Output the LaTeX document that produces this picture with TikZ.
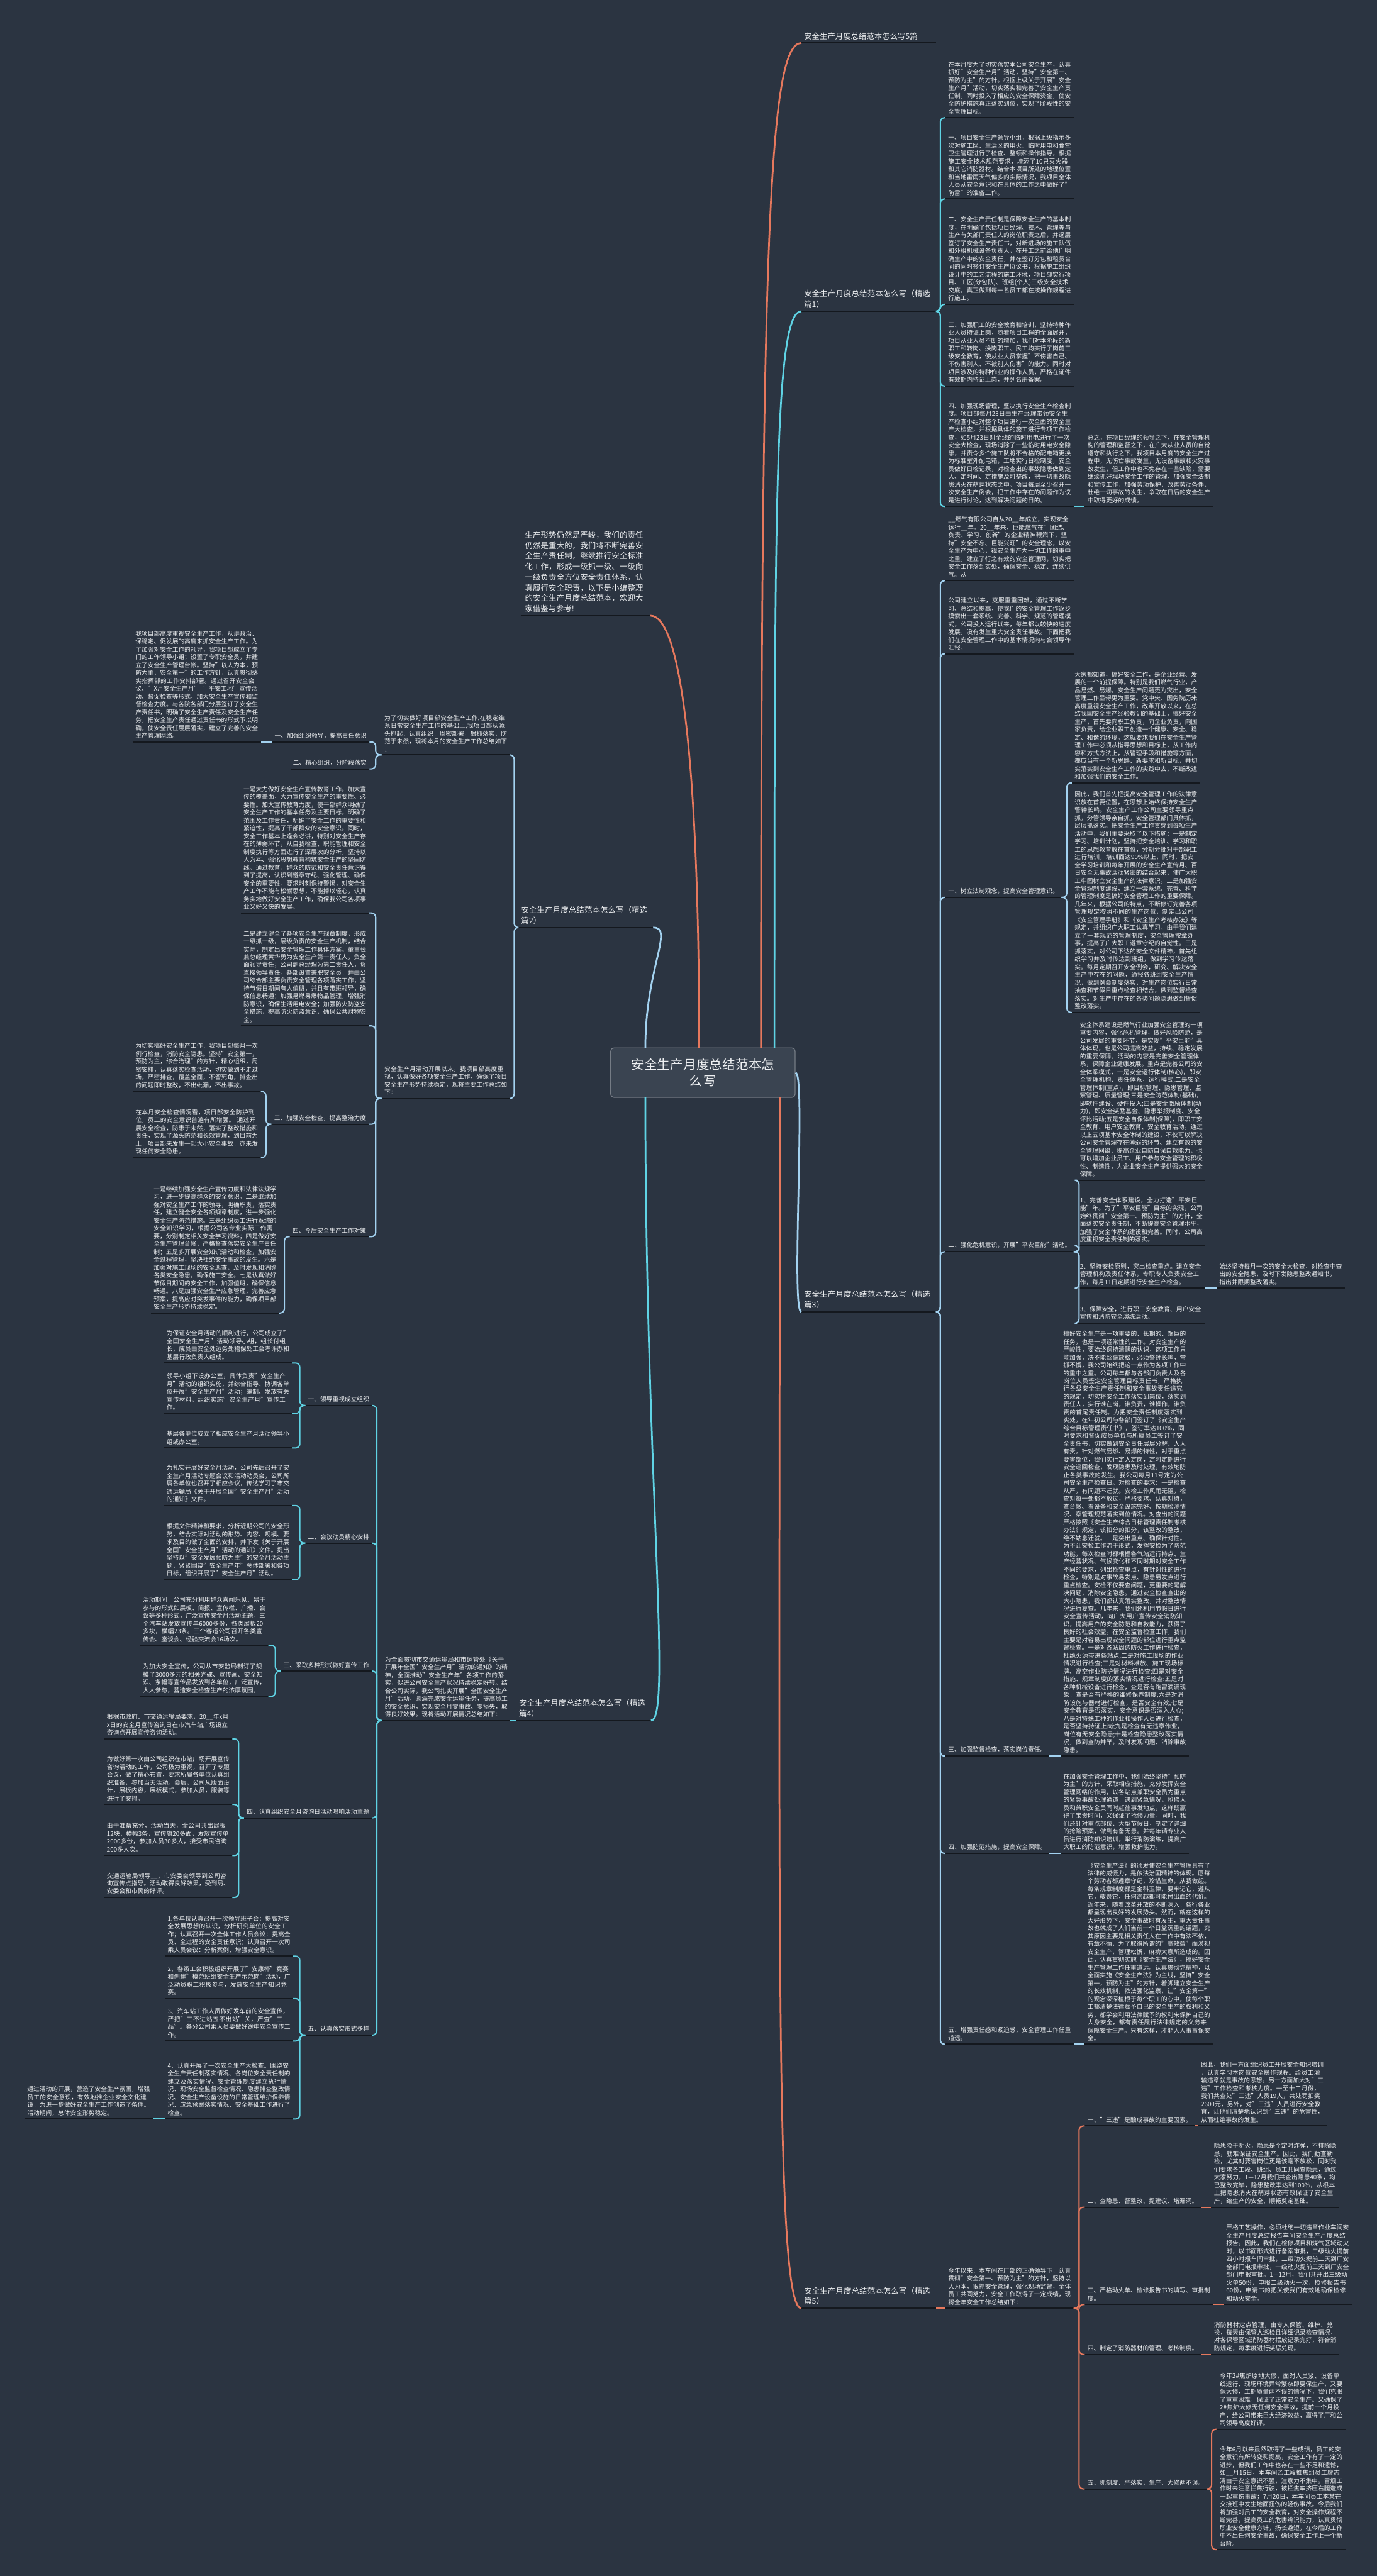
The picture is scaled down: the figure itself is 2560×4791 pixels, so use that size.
\documentclass[tikz,border=0pt]{standalone}
\usepackage{fontspec}
\setmainfont{Noto Sans CJK SC}
\XeTeXlinebreaklocale "zh"
\XeTeXlinebreakskip=0pt plus 1pt
\usetikzlibrary{positioning}
\definecolor{bg}{HTML}{2B3441}
\definecolor{ink}{HTML}{EEF0F2}
\definecolor{rule}{HTML}{14181E}
\definecolor{cyanc}{HTML}{5FD3E4}
\definecolor{bluec}{HTML}{A3D2F0}
\definecolor{orangec}{HTML}{E6785D}
\definecolor{rootfill}{HTML}{3A4451}
\newcommand\leaffont{\fontsize{11.4pt}{14.6pt}\selectfont}
\newcommand\topicfont{\fontsize{14.5pt}{19.6pt}\selectfont}
\newcommand\rootfont{\fontsize{24pt}{31pt}\selectfont}
\tikzset{
  uline/.style={draw=rule, line width=2.4pt},
  lab/.style={
    anchor=south west, inner xsep=5pt, inner ysep=6pt,
    align=left, text=ink, font=\leaffont,
    append after command={(\tikzlastnode.south west) edge[uline] (\tikzlastnode.south east)}
  },
  leaf/.style={lab, text width=228pt},
  labl/.style={lab, anchor=south east},
  leafl/.style={leaf, anchor=south east},
  topic/.style={lab, text width=240pt, font=\topicfont},
  rootbox/.style={
    fill=rootfill, draw=rootfill!70!white, line width=1.5pt, rounded corners=6pt,
    text width=290pt, align=center, minimum width=343pt, minimum height=92pt,
    text=ink, font=\rootfont
  },
  conn/.style={line width=2.4pt, rounded corners=8pt},
  branch/.style={line width=3.2pt}
}
\begin{document}
\begin{tikzpicture}[x=1pt, y=-1pt]
  \fill[bg] (0,0) rectangle (2560,4791);
  \useasboundingbox (0,0) rectangle (2560,4791);

  % root
  \node[rootbox] (root) at (1307,1995) {安全生产月度总结范本怎\\么写};

  % ---------- right side ----------
  \node[topic] (top) at (1490,80) {安全生产月度总结范本怎么写5篇};
  \node[topic] (pa) at (1490,579) {安全生产月度总结范本怎么写（精选篇1）};
  \node[topic] (pc) at (1490,2440) {安全生产月度总结范本怎么写（精选篇3）};
  \node[topic] (pe) at (1490,4293) {安全生产月度总结范本怎么写（精选篇5）};

  % 篇1
  \node[leaf] (a1) at (1758,219) {在本月度为了切实落实本公司安全生产，认真抓好"安全生产月"活动，坚持"安全第一、预防为主"的方针。根据上级关于开展"安全生产月"活动，切实落实和完善了安全生产责任制，同时投入了相应的安全保障资金，使安全防护措施真正落实到位，实现了阶段性的安全管理目标。};
  \node[leaf] (a2) at (1758,370) {一、项目安全生产领导小组，根据上级指示多次对施工区、生活区的用火、临时用电和食堂卫生管理进行了检查、整顿和操作指导，根据施工安全技术规范要求，增添了10只灭火器和其它消防器材。结合本项目所处的地理位置和当地雷雨天气偏多的实际情况，我项目全体人员从安全意识和在具体的工作之中做好了"防雷"的准备工作。};
  \node[leaf] (a3) at (1758,566) {二、安全生产责任制是保障安全生产的基本制度，在明确了包括项目经理、技术、管理等与生产有关部门责任人的岗位职责之后，并逐层签订了安全生产责任书，对新进场的施工队伍和外租机械设备负责人，在开工之前给他们明确生产中的安全责任，并在签订分包和租赁合同的同时签订安全生产协议书；根据施工组织设计中的工艺流程的施工环境，项目部实行项目、工区(分包队)、班组(个人)三级安全技术交底，真正做到每一名员工都在按操作规程进行施工。};
  \node[leaf] (a4) at (1758,718) {三、加强职工的安全教育和培训，坚持特种作业人员持证上岗，随着项目工程的全面展开，项目从业人员不断的增加，我们对本阶段的新职工和转岗、换岗职工、民工均实行了岗前三级安全教育，使从业人员掌握"不伤害自己、不伤害别人、不被别人伤害"的能力。同时对项目涉及的特种作业的操作人员，严格在证件有效期内持证上岗，并列名册备案。};
  \node[leaf] (a5) at (1758,942) {四、加强现场管理，坚决执行安全生产检查制度。项目部每月23日由生产经理带领安全生产检查小组对整个项目进行一次全面的安全生产大检查，并根据具体的施工进行专项工作检查，如5月23日对全线的临时用电进行了一次安全大检查，现场消除了一些临时用电安全隐患，并责令多个施工队将不合格的配电箱更换为标准室外配电箱，工地实行日检制度，安全员做好日检记录，对检查出的事故隐患做到定人、定时间、定措施及时整改，把一切事故隐患消灭在萌芽状态之中。项目每周至少召开一次安全生产例会，把工作中存在的问题作为议是进行讨论，达到解决问题的目的。};
  \node[leaf] (a6) at (2017,942) {总之，在项目经理的领导之下，在安全管理机构的管理和监督之下，在广大从业人员的自觉遵守和执行之下，我项目本月度的安全生产过程中，无伤亡事故发生，无设备事故和火灾事故发生，但工作中也不免存在一些缺陷，需要继续抓好现场安全工作的管理，加强安全法制和宣传工作，加强劳动保护，改善劳动条件，杜绝一切事故的发生，争取在日后的安全生产中取得更好的成绩。};

  % 篇3
  \node[leaf] (c1) at (1758,1080) {\_\_燃气有限公司自从20\_\_年成立，实现安全运行\_\_年。20\_\_年来，巨能燃气在"团结、负责、学习、创新"的企业精神鞭策下，坚持"安全不忘、巨能兴旺"的安全理念，以安全生产为中心，视安全生产为一切工作的重中之重，建立了行之有效的安全管理网，切实把安全工作落到实处，确保安全、稳定、连续供气。从};
  \node[leaf] (c2) at (1758,1216) {公司建立以来，克服重重困难，通过不断学习、总结和提高，使我们的安全管理工作逐步摸索出一套系统、完善、科学、规范的管理模式，公司投入运行以来，每年都以较快的速度发展，没有发生重大安全责任事故。下面把我们在安全管理工作中的基本情况向与会领导作汇报。};
  \node[lab] (c3) at (1758,1669) {一、树立法制观念，提高安全管理意识。};
  \node[lab] (c4) at (1758,2328) {二、强化危机意识，开展"平安巨能"活动。};
  \node[lab] (c5) at (1758,3266) {三、加强监督检查，落实岗位责任。};
  \node[lab] (c6) at (1758,3447) {四、加强防范措施，提高安全保障。};
  \node[leaf] (c7) at (1758,3802) {五、增强责任感和紧迫感，安全管理工作任重道远。};
  \node[leaf] (c31) at (1993,1456) {大家都知道，搞好安全工作，是企业经营、发展的一个前提保障。特别是我们燃气行业，产品易燃、易爆，安全生产问题更为突出，安全管理工作显得更为重要。党中央、国务院历来高度重视安全生产工作，改革开放以来，在总结我国安全生产经验教训的基础上，搞好安全生产，首先要向职工负责，向企业负责，向国家负责，给企业职工创造一个健康、安全、稳定、和谐的环境。这就要求我们在安全生产管理工作中必须从指导思想和目标上，从工作内容和方式方法上，从管理手段和措施等方面，都应当有一个新思路、新要求和新目标，并切实落实到安全生产工作的实践中去，不断改进和加强我们的安全工作。};
  \node[leaf] (c32) at (1993,1883) {因此，我们首先把提高安全管理工作的法律意识放在首要位置，在思想上始终保持安全生产警钟长鸣。安全生产工作公司主要领导重点抓，分管领导亲自抓，安全管理部门具体抓，层层抓落实。把安全生产工作贯穿到每项生产活动中，我们主要采取了以下措施：一是制定学习、培训计划，坚持把安全培训、学习和职工的思想教育放在首位，分期分批对干部职工进行培训，培训面达90\%以上，同时，把安全学习培训和每年开展的安全生产宣传月、百日安全无事故活动紧密的结合起来，使广大职工牢固树立安全生产的法律意识。二是加强安全管理制度建设，建立一套系统、完善、科学的管理制度是搞好安全管理工作的重要保障。几年来，根据公司的特点，不断修订完善各项管理规定按照不同的生产岗位，制定出公司《安全管理手册》和《安全生产考核办法》等规定，并组织广大职工认真学习。由于我们建立了一套规范的管理制度，安全管理按章办事，提高了广大职工遵章守纪的自觉性。三是抓落实，对公司下达的安全文件精神，首先组织学习并及时传达到班组，做到学习传达落实。每月定期召开安全例会，研究、解决安全生产中存在的问题，通报各班组安全生产情况，做到例会制度落实，对生产岗位实行日常抽查和节假日重点检查相结合，做到监督检查落实。对生产中存在的各类问题隐患做到督促整改落实。};
  \node[leaf] (c41) at (2003,2195) {安全体系建设是燃气行业加强安全管理的一项重要内容，强化危机管理，做好风险防范，是公司发展的重要环节，是实现"平安巨能"具体体现，也是公司提高效益，持续、稳定发展的重要保障。活动的内容是完善安全管理体系，保障企业健康发展。重点是完善公司的安全体系模式，一是安全运行体制(核心)，即安全管理机构、责任体系，运行模式;二是安全管理体制(重点)，即目标管理、隐患管理、监察管理、质量管理;三是安全防范体制(基础)，即软件建设、硬件投入;四是安全激励体制(动力)，即安全奖励基金、隐患举报制度、安全评比活动;五是安全自保体制(保障)，即职工安全教育、用户安全教育、安全教育活动。通过以上五项基本安全体制的建设，不仅可以解决公司安全管理存在薄弱的环节、建立有效的安全管理网络，提高企业自防自保自救能力，也可以增加企业员工、用户参与安全管理的积极性、制造性，为企业安全生产提供强大的安全保障。};
  \node[leaf] (c42) at (2003,2317) {1、完善安全体系建设，全力打造"平安巨能"年。为了"平安巨能"目标的实现，公司始终贯彻"安全第一、预防为主"的方针，全面落实安全责任制，不断提高安全管理水平，加强了安全体系的建设和完善。同时，公司高度重视安全责任制的落实。};
  \node[leaf] (c43) at (2003,2396) {2、坚持安检原则，突出检查重点。建立安全管理机构及责任体系，专职专人负责安全工作，每月11日定期进行安全生产检查。};
  \node[leaf] (c44) at (2003,2461) {3、保障安全，进行职工安全教育、用户安全宣传和消防安全演练活动。};
  \node[leaf] (c45) at (2262,2396) {始终坚持每月一次的安全大检查，对检查中查\\出的安全隐患，及时下发隐患整改通知书，\\指出并限期整改落实。};
  \node[leaf] (c51) at (1972,3266) {搞好安全生产是一项重要的、长期的、艰巨的任务，也是一项经常性的工作。对安全生产的严峻性，要始终保持清醒的认识，这项工作只能加强，决不能丝毫放松，必须警钟长鸣，常抓不懈，我公司始终把这一点作为各项工作中的重中之重。公司每年都与各部门负责人及各岗位人员签定安全管理目标责任书，严格执行各级安全生产责任制和安全事故责任追究的规定，切实将安全工作落实到岗位，落实到责任人，实行谁在岗，谁负责，谁操作，谁负责的首尾责任制。为把安全责任制度落实到实处，在年初公司与各部门签订了《安全生产综合目标管理责任书》，签订率达100\%，同时要求和督促成员单位与所属员工签订了安全责任书，切实做到安全责任层层分解、人人有责。针对燃气易燃、易爆的特性，对于重点要害部位，我们实行定人定岗，定时定期进行安全巡回检查，发现隐患及时处理，有效地防止各类事故的发生。我公司每月11号定为公司安全生产检查日。对检查的要求：一是检查从严，有问题不迁就。安检工作风雨无阻，检查对每一处都不放过，严格要求、认真对待，查台帐、看设备和安全设施完好、按期检测情况、察管理规范落实到位情况。对查出的问题严格按照《安全生产综合目标管理责任制考核办法》规定，该扣分的扣分，该整改的整改，绝不姑息迁就。二是突出重点、确保针对性。为不让安检工作流于形式，发挥安检为了防范功能，每次检查时都根据各气站运行特点、生产经营状况、气候变化和不同时期对安全工作不同的要求，列出检查重点，有针对性的进行检查，特别是对事故易发点、隐患易发点进行重点检查。安检不仅要查问题，更重要的是解决问题，消除安全隐患。通过安全检查查出的大小隐患，我们都认真落实整改，并对整改情况进行复查。几年来，我们还利用节假日进行安全宣传活动，向广大用户宣传安全消防知识，提高用户的安全防范和自救能力，获得了良好的社会效益。在安全监督检查工作，我们主要是对容易出现安全问题的部位进行重点监督检查。一是对各站周边防火工作进行检查，杜绝火源带进各站点;二是对施工现场的作业情况进行检查;三是对材料堆放、施工现场标牌、高空作业防护情况进行检查;四是对安全措施、规章制度的落实情况进行检查;五是对各种机械设备进行检查，查是否有跑冒滴漏现象，查是否有严格的维修保养制度;六是对消防设施与器材进行检查，是否安全有效;七是安全教育是否落实，安全意识是否深入人心;八是对特殊工种的作业和操作人员进行检查，是否坚持持证上岗;九是检查有无违章作业，岗位有无安全隐患;十是检查隐患整改落实情况，做到查防并举，及时发现问题、消除事故隐患。};
  \node[leaf] (c61) at (1972,3447) {在加强安全管理工作中，我们始终坚持"预防为主"的方针，采取相应措施，充分发挥安全管理网络的作用，以各站点兼职安全员为重点的紧急事故处理通道，遇到紧急情况，抢修人员和兼职安全员同时赶往事发地点，这样既赢得了宝贵时间，又保证了抢修力量。同时，我们还针对重点部位、大型节假日，制定了详细的抢险预案，做到有备无患。并每年请专业人员进行消防知识培训，举行消防演练，提高广大职工的防范意识，增强救护能力。};
  \node[leaf] (c71) at (2017,3802) {《安全生产法》的颁发使安全生产管理具有了法律的威慑力，是依法治国精神的体现。愿每个劳动者都遵章守纪，珍惜生命，从我做起。每条规章制度都是金科玉律，要牢记它，遵从它，敬畏它，任何逾越都可能付出血的代价。近年来，随着改革开放的不断深入，各行各业都呈现出良好的发展势头。然而，就在这样的大好形势下，安全事故时有发生，重大责任事故也就成了人们当前一个日益沉重的话题，究其原因主要是相关责任人在工作中有法不依，有章不循，为了取得所谓的"高效益"而漠视安全生产，管理松懈，麻痹大意所造成的。因此，认真贯彻实施《安全生产法》，搞好安全生产管理工作任重道远。认真贯彻党精神，以全面实施《安全生产法》为主线，坚持"安全第一，预防为主"的方针，着脚建立安全生产的长效机制，依法强化监察，让"安全第一"的观念深深植根于每个职工的心中，使每个职工都清楚法律赋予自己的安全生产的权利和义务，都学会利用法律赋予的权利来保护自己的人身安全，都有责任履行法律规定的义务来保障安全生产。只有这样，才能人人事事保安全。};

  % 篇5
  \node[leaf] (e0) at (1758,4293) {今年以来，本车间在厂部的正确领导下，认真贯彻"安全第一、预防为主"的方针，坚持以人为本，狠抓安全管理，强化现场监督，全体员工共同努力，安全工作取得了一定成绩，现将全年安全工作总结如下：};
  \node[lab] (e1) at (2017,3954) {一、"三违"是酿成事故的主要因素。};
  \node[lab] (e2) at (2017,4105) {二、查隐患、督整改、提建议、堵漏洞。};
  \node[leaf] (e3) at (2017,4286) {三、严格动火单、检修报告书的填写、审批制度。};
  \node[lab] (e4) at (2017,4379) {四、制定了消防器材的管理、考核制度。};
  \node[lab] (e5) at (2017,4629) {五、抓制度、严落实，生产、大修两不误。};
  \node[leaf] (e11) at (2228,3954) {因此，我们一方面组织员工开展安全知识培训\\，认真学习本岗位安全操作规程。给员工灌输违章就是事故的思想。另一方面加大对"三违"工作检查和考核力度。一至十二月份，我们共查处"三违"人员19人，共处罚扣奖2600元，另外，对"三违"人员进行安全教育，让他们清楚地认识到"三违"的危害性，从而杜绝事故的发生。};
  \node[leaf] (e21) at (2252,4105) {隐患险于明火，隐患是个定时炸弹，不排除隐患，就难保证安全生产。因此，我们勤查勤检，尤其对要害岗位更是该毫不放松，同时我们要求各工段、班组、员工共同查隐患，通过大家努力，1—12月我们共查出隐患40条，均已整改完毕，隐患整改率达到100\%，从根本上把隐患消灭在萌芽状态有效保证了安全生产，给生产的安全、顺畅奠定基础。};
  \node[leaf] (e31) at (2275,4286) {严格工艺操作，必须杜绝一切违章作业车间安全生产月度总结报告车间安全生产月度总结报告。因此，我们在检修项目和煤气区域动火时，以书面形式进行备案审批，三级动火提前四小时报车间审批，二级动火提前二天到厂安全部门电报审批，一级动火提前三天到厂安全部门申报审批。1—12月，我们共开出三级动火单50份，申报二级动火一次，检修报告书60份，申请书的把关使我们有效地确保检修和动火安全。};
  \node[leaf] (e41) at (2252,4379) {消防器材定点管理，由专人保管、维护、兑换，每天由保管人巡检且详细记录检查情况，对各保管区域消防器材摆放记录完好，符合消防规定，每季度进行奖惩兑现。};
  \node[leaf] (e51) at (2263,4518) {今年2\#焦炉原地大修，面对人员紧、设备单线运行、现场环境异常繁杂即要保生产，又要保大修，工期质量两不误的情况下，我们克服了重重困难，保证了正常安全生产。又确保了2\#焦炉大修无任何安全事故，提前一个月投产，给公司带来巨大经济效益，赢得了厂和公司领导高度好评。};
  \node[leaf] (e52) at (2263,4742) {今年6月以来虽然取得了一些成绩，员工的安全意识有所转变和提高，安全工作有了一定的进步，但我们工作中也存在一些不足和遗憾，如\_\_月15日，本车间乙工段推焦组员工廖志清由于安全意识不强，注意力不集中。冒烟工作时未注意拦焦行驶，被拦焦车挤压右腿造成一起重伤事故；7月20日，本车间员工李某在交接班中发生地面扭伤的轻伤事故。今后我们将加强对员工的安全教育，对安全操作规程不断完善，提高员工的危害辨识能力，认真贯彻职业安全健康方针，扬长避短，在今后的工作中不出任何安全事故，确保安全工作上一个新台阶。};

  % ---------- left side ----------
  \node[lab, text width=225pt, inner xsep=8pt, font=\topicfont] (t0) at (968,1145) {生产形势仍然是严峻，我们的责任仍然是重大的，我们将不断完善安全生产责任制，继续推行安全标准化工作，形成一级抓一级、一级向一级负责全方位安全责任体系，认真履行安全职责，以下是小编整理的安全生产月度总结范本，欢迎大家借鉴与参考!};
  \node[topic] (pb) at (964,1725) {安全生产月度总结范本怎么写（精选篇2）};
  \node[topic] (pd) at (960,3200) {安全生产月度总结范本怎么写（精选篇4）};

  % 篇2
  \node[leafl] (b1) at (948,1404) {为了切实做好项目部安全生产工作,在稳定维系日常安全生产工作的基础上,我项目部从源头抓起，认真组织，周密部署，狠抓落实，防范于未然，现将本月的安全生产工作总结如下\\：};
  \node[leafl] (b2) at (948,2043) {安全生产月活动开展以来，我项目部高度重视，认真做好各项安全生产工作，确保了项目安全生产形势持续稳定，现将主要工作总结如下：};
  \node[labl] (b11) at (687,1380) {一、加强组织领导，提高责任意识};
  \node[labl] (b12) at (687,1430) {二、精心组织，分阶段落实};
  \node[leafl] (b111) at (485,1380) {我项目部高度重视安全生产工作，从讲政治、保稳定、促发展的高度来抓安全生产工作。为了加强对安全工作的领导，我项目部成立了专门的工作领导小组；设置了专职安全员，并建立了安全生产管理台帐。坚持"以人为本，预防为主，安全第一"的工作方针，认真贯彻落实指挥部的工作安排部署。通过召开安全会议、"X月安全生产月" "平安工地"宣传活动、督促检查等形式，加大安全生产宣传和监督检查力度。与各院各部门分层签订了安全生产责任书，明确了安全生产责任及安全生产任务，把安全生产责任通过责任书的形式予以明确，使安全责任层层落实，建立了完善的安全生产管理网络。};
  \node[leafl] (b21) at (686,1698) {一是大力做好安全生产宣传教育工作。加大宣传的覆盖面，大力宣传安全生产的重要性、必要性。加大宣传教育力度，使干部群众明确了安全生产工作的基本任务及主要目标，明确了范围及工作责任，明确了安全工作的重要性和紧迫性，提高了干部群众的安全意识。同时，安全工作基本上逢会必讲，特别对安全生产存在的薄弱环节，从自我检查、职能管理和安全制度执行等方面进行了深层次的分析，坚持以人为本、强化思想教育构筑安全生产的坚固防线。通过教育，群众的防范和安全责任意识得到了提高，认识到遵章守纪、强化管理、确保安全的重要性。要求时刻保持警惕，对安全生产工作不能有松懈思想，不能掉以轻心，认真务实地做好安全生产工作，确保我公司各项事业又好又快的发展。};
  \node[leafl] (b22) at (686,1908) {二是建立健全了各项安全生产规章制度，形成一级抓一级，层级负责的安全生产机制，结合实际，制定出安全管理工作具体方案。董事长兼总经理黄华勇为安全生产第一责任人，负全面领导责任；公司副总经理为第二责任人，负直接领导责任。各部设置兼职安全员，并由公司综合部主要负责安全管理各项落实工作；坚持节假日期间有人值班，并且有带班领导，确保信息畅通；加强易燃易爆物品管理，增强消防意识，确保生活用电安全；加强防火防盗安全措施，提高防火防盗意识，确保公共财物安全。};
  \node[labl] (b23) at (686,2091) {三、加强安全检查，提高整治力度};
  \node[labl] (b24) at (686,2300) {四、今后安全生产工作对策};
  \node[leafl] (b231) at (485,2030) {为切实搞好安全生产工作，我项目部每月一次例行检查，消防安全隐患。坚持"安全第一，预防为主，综合治理"的方针，精心组织，周密安排，认真落实检查活动，切实做到不走过场，严密排查，覆盖全面，不留死角，排查出的问题即时整改，不出纰漏，不出事故。};
  \node[leafl] (b232) at (485,2153) {在本月安全检查情况看，项目部安全防护到位，员工的安全意识普遍有所增强。 通过开展安全检查，防患于未然，落实了整改措施和责任，实现了源头防范和长效管理，到目前为止，项目部未发生一起大小安全事故，亦未发现任何安全隐患。};
  \node[leafl] (b241) at (519,2442) {一是继续加强安全生产宣传力度和法律法规学习，进一步提高群众的安全意识。二是继续加强对安全生产工作的领导，明确职责，落实责任，建立健全安全各项规章制度，进一步强化安全生产防范措施。三是组织员工进行系统的安全知识学习，根据公司各专业实际工作需要，分别制定相关安全学习资料；四是做好安全生产管理台帐，严格督查落实安全生产责任制；五是多开展安全知识活动和检查，加强安全过程管理，坚决杜绝安全事故的发生。六是加强对施工现场的安全巡查，及时发现和消除各类安全隐患，确保施工安全。七是认真做好节假日期间的安全工作，加强值班，确保信息畅通。八是加强安全生产应急管理，完善应急预案，提高应对突发事件的能力，确保项目部安全生产形势持续稳定。};

  % 篇4
  \node[leafl] (d0) at (949,3200) {为全面贯彻市交通运输局和市运管处《关于开展年全国"安全生产月"活动的通知》的精神，全面推动"安全生产年"各项工作的落实，促进公司安全生产状况持续稳定好转。结合公司实际，我公司扎实开展"全国安全生产月"活动，圆满完成安全运输任务，提高员工的安全意识，实现安全月零事故、零损失，取得良好效果。现将活动开展情况总结如下：};
  \node[labl] (d1) at (692,2614) {一、领导重视成立组织};
  \node[labl] (d2) at (692,2870) {二、会议动员精心安排};
  \node[labl] (d3) at (692,3108) {三、采取多种形式做好宣传工作};
  \node[labl] (d4) at (692,3381) {四、认真组织安全月咨询日活动唱响活动主题};
  \node[labl] (d5) at (692,3785) {五、认真落实形式多样};
  \node[leafl] (d11) at (543,2535) {为保证安全月活动的顺利进行，公司成立了"全国安全生产月"活动领导小组，组长付组长，成员由安全处运务处稽保处工会考评办和基层行政负责人组成。};
  \node[leafl] (d12) at (543,2629) {领导小组下设办公室，具体负责"安全生产月"活动的组织实施，并综合指导、协调各单位开展"安全生产月"活动；编制、发放有关宣传材料，组织实施"安全生产月"宣传工作。};
  \node[leafl] (d13) at (543,2693) {基层各单位成立了相应安全生产月活动领导小组或办公室。};
  \node[leafl] (d21) at (543,2800) {为扎实开展好安全月活动，公司先后召开了安全生产月活动专题会议和活动动员会，公司所属各单位也召开了相应会议，传达学习了市交通运输局《关于开展全国"安全生产月"活动的通知》文件。};
  \node[leafl] (d22) at (543,2938) {根据文件精神和要求，分析近期公司的安全形势，结合实际对活动的形势、内容、规模、要求及目的做了全面的安排，并下发《关于开展全国"安全生产月"活动的通知》文件。提出坚持以"安全发展预防为主"的安全月活动主题，紧紧围绕"安全生产年"总体部署和各项目标，组织开展了"安全生产月"活动。};
  \node[leafl] (d31) at (499,3060) {活动期间，公司充分利用群众喜闻乐见、易于参与的形式如展板、简报、宣传栏、广播、会议等多种形式，广泛宣传安全月活动主题。三个汽车站发放宣传单6000多份，各类展板20多块，横幅23条。三个客运公司召开各类宣传会、座谈会、经验交流会16场次。};
  \node[leafl] (d32) at (499,3155) {为加大安全宣传，公司从市安监局制订了规模了3000多元的相关光碟、宣传画、安全知识、条幅等宣传品发放到各单位，广泛宣传，人人参与，营造安全检查生产的浓厚氛围。};
  \node[leafl] (d41) at (432,3234) {根据市政府、市交通运输局要求，20\_\_年x月x日的安全月宣传咨询日在市汽车站广场设立咨询点开展宣传咨询活动。};
  \node[leafl] (d42) at (432,3356) {为做好第一次由公司组织在市站广场开展宣传咨询活动的工作，公司极为重视，召开了专题会议，做了精心布置，要求所属各单位认真组织准备，参加当天活动。会后，公司从版面设计，展板内容，展板模式，参加人员，服装等进行了安排。};
  \node[leafl] (d43) at (432,3451) {由于准备充分，活动当天，全公司共出展板12块，横幅3条，宣传旗20多面，发放宣传单2000多份，参加人员30多人，接受市民咨询200多人次。};
  \node[leafl] (d44) at (432,3529) {交通运输局领导\_\_，市安委会领导到公司咨询宣传点指导。活动取得良好效果，受到局、安委会和市民的好评。};
  \node[leafl] (d51) at (545,3638) {1.各单位认真召开一次领导班子会：提高对安全发展思想的认识，分析研究单位的安全工作；认真召开一次全体工作人员会议：提高全员、全过程的安全责任意识；认真召开一次司乘人员会议：分析案例、增强安全意识。};
  \node[leafl] (d52) at (545,3717) {2、各级工会积极组织开展了"安康杯"竞赛和创建"模范班组安全生产示范岗"活动，广泛动员职工积极参与，发放安全生产知识竞赛。};
  \node[leafl] (d53) at (545,3796) {3、汽车站工作人员做好发车前的安全宣传，严把"三不进站五不出站"关，严查"三品"。各分公司乘人员要做好途中安全宣传工作。};
  \node[leafl] (d54) at (545,3941) {4、认真开展了一次安全生产大检查。围绕安全生产责任制落实情况、各岗位安全责任制的建立及落实情况、安全管理制度建立执行情况、现场安全监督检查情况、隐患排查整改情况、安全生产设备设施的日常管理维护保养情况、应急预案落实情况、安全基础工作进行了检查。};
  \node[leafl] (d541) at (284,3941) {通过活动的开展，营造了安全生产氛围，增强员工的安全意识，有效地推企业安全文化建设，为进一步做好安全生产工作创造了条件。活动期间，总体安全形势稳定。};

  % ---------- connectors from the root ----------
  \draw[branch, orangec] (1415,1949) .. controls +(0,-1500) and +(-60,0) .. (top.south west);
  \draw[branch, cyanc] (1440,1949) .. controls +(0,-1000) and +(-50,0) .. (pa.south west);
  \draw[branch, bluec] (root.east) .. controls +(20,0) and +(-20,0) .. (pc.south west);
  \draw[branch, orangec] (1450,2041) .. controls +(0,1500) and +(-50,0) .. (pe.south west);
  \draw[branch, orangec] (1300,1949) .. controls +(0,-500) and +(60,0) .. (t0.south east);
  \draw[branch, bluec] (1200,1949) .. controls +(0,-150) and +(40,0) .. (pb.south east);
  \draw[branch, cyanc] (1200,2041) .. controls +(0,700) and +(40,0) .. (pd.south east);

  % ---------- branch brackets ----------
  \foreach \k in {a1,a2,a3,a4,a5}
    \draw[conn, cyanc] (pa.south east) -- ++(8,0) |- (\k.south west);
  \draw[conn, cyanc] (a5.south east) -- (a6.south west);

  \foreach \k in {c1,c2,c3,c4,c5,c6,c7}
    \draw[conn, bluec] (pc.south east) -- ++(8,0) |- (\k.south west);
  \foreach \k in {c31,c32}
    \draw[conn, bluec] (c3.south east) -- ++(10,0) |- (\k.south west);
  \foreach \k in {c41,c42,c43,c44}
    \draw[conn, bluec] (c4.south east) -- ++(10,0) |- (\k.south west);
  \draw[conn, bluec] (c43.south east) -- (c45.south west);
  \draw[conn, bluec] (c5.south east) -- (c51.south west);
  \draw[conn, bluec] (c6.south east) -- (c61.south west);
  \draw[conn, bluec] (c7.south east) -- (c71.south west);

  \draw[conn, orangec] (pe.south east) -- (e0.south west);
  \foreach \k in {e1,e2,e3,e4,e5}
    \draw[conn, orangec] (e0.south east) -- ++(10,0) |- (\k.south west);
  \draw[conn, orangec] (e1.south east) -- (e11.south west);
  \draw[conn, orangec] (e2.south east) -- (e21.south west);
  \draw[conn, orangec] (e3.south east) -- (e31.south west);
  \draw[conn, orangec] (e4.south east) -- (e41.south west);
  \foreach \k in {e51,e52}
    \draw[conn, orangec] (e5.south east) -- ++(9,0) |- (\k.south west);

  \foreach \k in {b1,b2}
    \draw[conn, bluec] (pb.south west) -- ++(-8,0) |- (\k.south east);
  \foreach \k in {b11,b12}
    \draw[conn, bluec] (b1.south west) -- ++(-11,0) |- (\k.south east);
  \draw[conn, bluec] (b11.south west) -- (b111.south east);
  \foreach \k in {b21,b22,b23,b24}
    \draw[conn, bluec] (b2.south west) -- ++(-11,0) |- (\k.south east);
  \foreach \k in {b231,b232}
    \draw[conn, bluec] (b23.south west) -- ++(-10,0) |- (\k.south east);
  \draw[conn, bluec] (b24.south west) -- ++(-10,0) |- (b241.south east);

  \draw[conn, cyanc] (pd.south west) -- (d0.south east);
  \foreach \k in {d1,d2,d3,d4,d5}
    \draw[conn, cyanc] (d0.south west) -- ++(-10,0) |- (\k.south east);
  \foreach \k in {d11,d12,d13}
    \draw[conn, cyanc] (d1.south west) -- ++(-10,0) |- (\k.south east);
  \foreach \k in {d21,d22}
    \draw[conn, cyanc] (d2.south west) -- ++(-10,0) |- (\k.south east);
  \foreach \k in {d31,d32}
    \draw[conn, cyanc] (d3.south west) -- ++(-10,0) |- (\k.south east);
  \foreach \k in {d41,d42,d43,d44}
    \draw[conn, cyanc] (d4.south west) -- ++(-10,0) |- (\k.south east);
  \foreach \k in {d51,d52,d53,d54}
    \draw[conn, cyanc] (d5.south west) -- ++(-10,0) |- (\k.south east);
  \draw[conn, cyanc] (d54.south west) -- (d541.south east);
\end{tikzpicture}
\end{document}
